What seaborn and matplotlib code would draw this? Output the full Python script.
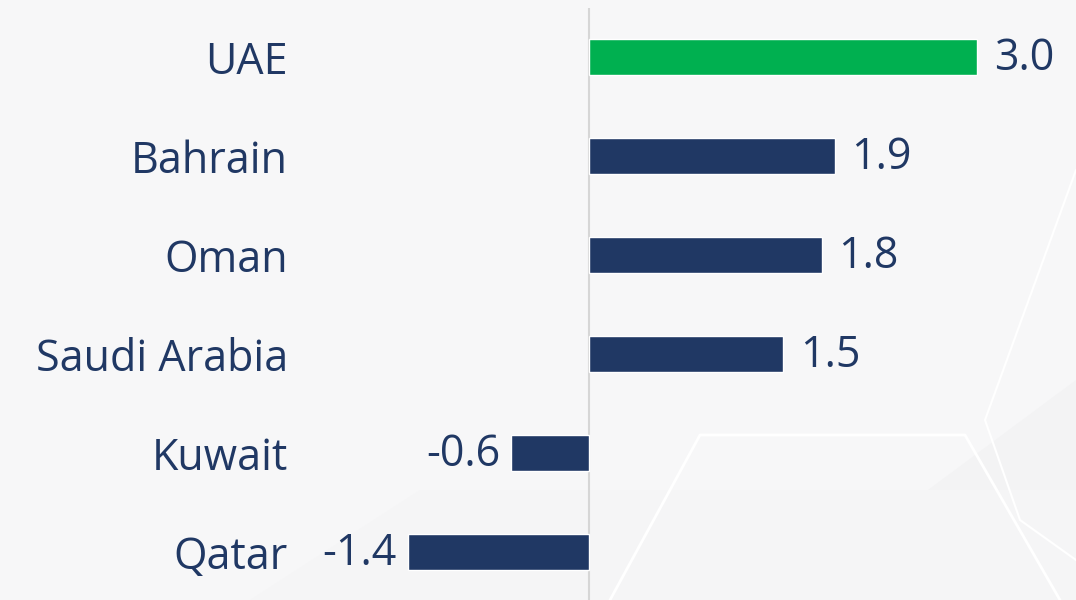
import matplotlib
matplotlib.use("Agg")
import matplotlib.pyplot as plt
import seaborn as sns
import pandas as pd
from matplotlib.patches import Polygon

countries = ["UAE", "Bahrain", "Oman", "Saudi Arabia", "Kuwait", "Qatar"]
values = [3.0, 1.9, 1.8, 1.5, -0.6, -1.4]
groups = ["highlight", "other", "other", "other", "other", "other"]
palette = {"highlight": "#00b050", "other": "#203864"}

TEXT = "#203864"
BG = "#f7f7f8"

sns.set_theme(style="white")
plt.rcParams["font.family"] = ["Open Sans", "DejaVu Sans"]

df = pd.DataFrame({"country": countries, "value": values, "group": groups})

fig = plt.figure(figsize=(10.76, 6.0), dpi=100)
fig.patch.set_facecolor(BG)

bgax = fig.add_axes([0, 0, 1, 1], zorder=-5)
bgax.set_xlim(0, 1076)
bgax.set_ylim(600, 0)
bgax.axis("off")
bgax.add_patch(Polygon([[780, 600], [1076, 380], [1076, 600]], closed=True,
                       facecolor="#f3f3f4", edgecolor="none"))
bgax.add_patch(Polygon([[250, 600], [420, 490], [1076, 490], [1076, 600]], closed=True,
                       facecolor="#f5f5f6", edgecolor="none"))
bgax.plot([610, 700, 965, 1060], [600, 435, 435, 600], color="white", lw=2)
bgax.plot([1076, 985, 1020, 1076], [170, 420, 520, 560], color="white", lw=1.5)

ax = fig.add_axes([300 / 1076, 0, 776 / 1076, 592 / 600])
ax.patch.set_alpha(0)

sns.barplot(data=df, x="value", y="country", hue="group", palette=palette,
            orient="h", width=0.36, dodge=False, legend=False, ax=ax,
            saturation=1)

ax.set_xlim((300 - 589) / 129.33, (1076 - 589) / 129.33)
ax.set_ylim(5.485, -0.495)
ax.axvline(0, color="#d6d6d6", lw=1.5, zorder=0)

for s in ax.spines.values():
    s.set_visible(False)
ax.set_xticks([])
ax.set_xlabel("")
ax.set_ylabel("")
ax.tick_params(axis="y", length=0, pad=8.6)
for lab in ax.get_yticklabels():
    lab.set_fontsize(31)
    lab.set_color(TEXT)

for i, v in enumerate(values):
    if v >= 0:
        ax.annotate(f"{v:.1f}", xy=(v, i), xytext=(12, -1), textcoords="offset points",
                    ha="left", va="center", fontsize=31, color=TEXT)
    else:
        ax.annotate(f"{v:.1f}", xy=(v, i), xytext=(-8, -1), textcoords="offset points",
                    ha="right", va="center", fontsize=31, color=TEXT)

fig.savefig("out.png", dpi=100, facecolor=BG)
